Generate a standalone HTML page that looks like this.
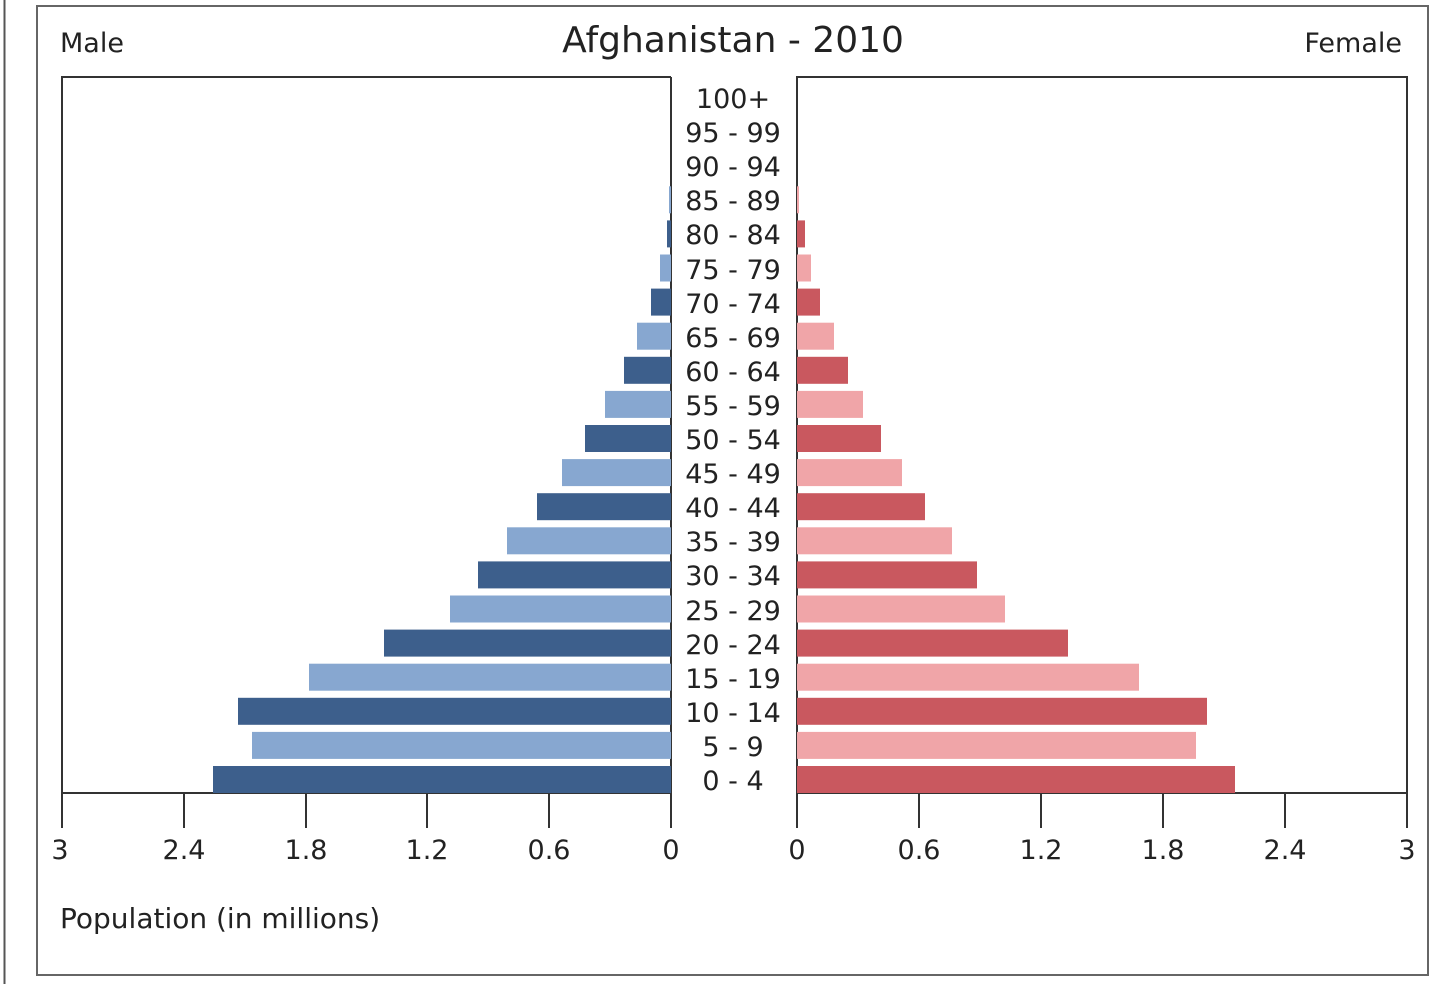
<!DOCTYPE html>
<html><head><meta charset="utf-8"><style>
html,body{margin:0;padding:0;background:#fff;}
svg{display:block;}
text{font-family:"DejaVu Sans","Liberation Sans",sans-serif;fill:#222;}
</style></head><body>
<svg width="1440" height="984" viewBox="0 0 1440 984" xmlns="http://www.w3.org/2000/svg">
<rect x="0" y="0" width="1440" height="984" fill="#fff"/>
<line x1="4.5" y1="0" x2="4.5" y2="984" stroke="#555" stroke-width="2"/>
<rect x="37" y="6" width="1391" height="969" fill="none" stroke="#666" stroke-width="2"/>
<text x="60" y="52" font-size="27">Male</text>
<text x="733" y="52" font-size="36" text-anchor="middle">Afghanistan - 2010</text>
<text x="1402" y="52" font-size="27" text-anchor="end">Female</text>
<g fill="none" stroke="#333" stroke-width="2">
<polyline points="671,77 62,77 62,793 671,793"/>
<line x1="671" y1="77" x2="671" y2="793"/>
<polyline points="797,793 797,77 1407,77 1407,793 797,793"/>
</g>
<g id="bars">
<rect x="213" y="766" width="458" height="27" fill="#3d5f8c"/>
<rect x="252" y="731.9" width="419" height="27" fill="#87a7d0"/>
<rect x="238" y="697.8" width="433" height="27" fill="#3d5f8c"/>
<rect x="309" y="663.7" width="362" height="27" fill="#87a7d0"/>
<rect x="384" y="629.6" width="287" height="27" fill="#3d5f8c"/>
<rect x="450" y="595.5" width="221" height="27" fill="#87a7d0"/>
<rect x="478" y="561.4" width="193" height="27" fill="#3d5f8c"/>
<rect x="507" y="527.3" width="164" height="27" fill="#87a7d0"/>
<rect x="537" y="493.2" width="134" height="27" fill="#3d5f8c"/>
<rect x="562" y="459.1" width="109" height="27" fill="#87a7d0"/>
<rect x="585" y="425" width="86" height="27" fill="#3d5f8c"/>
<rect x="605" y="390.9" width="66" height="27" fill="#87a7d0"/>
<rect x="624" y="356.8" width="47" height="27" fill="#3d5f8c"/>
<rect x="637" y="322.7" width="34" height="27" fill="#87a7d0"/>
<rect x="651" y="288.6" width="20" height="27" fill="#3d5f8c"/>
<rect x="660" y="254.5" width="11" height="27" fill="#87a7d0"/>
<rect x="667" y="220.4" width="4" height="27" fill="#3d5f8c"/>
<rect x="669" y="186.3" width="2" height="27" fill="#87a7d0"/>

<rect x="797" y="766" width="438" height="27" fill="#c9585f"/>
<rect x="797" y="731.9" width="399" height="27" fill="#f0a5a8"/>
<rect x="797" y="697.8" width="410" height="27" fill="#c9585f"/>
<rect x="797" y="663.7" width="342" height="27" fill="#f0a5a8"/>
<rect x="797" y="629.6" width="271" height="27" fill="#c9585f"/>
<rect x="797" y="595.5" width="208" height="27" fill="#f0a5a8"/>
<rect x="797" y="561.4" width="180" height="27" fill="#c9585f"/>
<rect x="797" y="527.3" width="155" height="27" fill="#f0a5a8"/>
<rect x="797" y="493.2" width="128" height="27" fill="#c9585f"/>
<rect x="797" y="459.1" width="105" height="27" fill="#f0a5a8"/>
<rect x="797" y="425" width="84" height="27" fill="#c9585f"/>
<rect x="797" y="390.9" width="66" height="27" fill="#f0a5a8"/>
<rect x="797" y="356.8" width="51" height="27" fill="#c9585f"/>
<rect x="797" y="322.7" width="37" height="27" fill="#f0a5a8"/>
<rect x="797" y="288.6" width="23" height="27" fill="#c9585f"/>
<rect x="797" y="254.5" width="14" height="27" fill="#f0a5a8"/>
<rect x="797" y="220.4" width="8" height="27" fill="#c9585f"/>
<rect x="797" y="186.3" width="2" height="27" fill="#f0a5a8"/>
</g>
<g font-size="27" text-anchor="middle">
<text x="733" y="790">0 - 4</text>
<text x="733" y="756">5 - 9</text>
<text x="733" y="722">10 - 14</text>
<text x="733" y="688">15 - 19</text>
<text x="733" y="654">20 - 24</text>
<text x="733" y="620">25 - 29</text>
<text x="733" y="585">30 - 34</text>
<text x="733" y="551">35 - 39</text>
<text x="733" y="517">40 - 44</text>
<text x="733" y="483">45 - 49</text>
<text x="733" y="449">50 - 54</text>
<text x="733" y="415">55 - 59</text>
<text x="733" y="381">60 - 64</text>
<text x="733" y="347">65 - 69</text>
<text x="733" y="313">70 - 74</text>
<text x="733" y="279">75 - 79</text>
<text x="733" y="244">80 - 84</text>
<text x="733" y="210">85 - 89</text>
<text x="733" y="176">90 - 94</text>
<text x="733" y="142">95 - 99</text>
<text x="733" y="108">100+</text>
</g>
<g stroke="#333" stroke-width="2">
<line x1="62" y1="793" x2="62" y2="828"/>
<line x1="184" y1="793" x2="184" y2="828"/>
<line x1="306" y1="793" x2="306" y2="828"/>
<line x1="427" y1="793" x2="427" y2="828"/>
<line x1="549" y1="793" x2="549" y2="828"/>
<line x1="671" y1="793" x2="671" y2="828"/>
<line x1="797" y1="793" x2="797" y2="828"/>
<line x1="919" y1="793" x2="919" y2="828"/>
<line x1="1041" y1="793" x2="1041" y2="828"/>
<line x1="1163" y1="793" x2="1163" y2="828"/>
<line x1="1285" y1="793" x2="1285" y2="828"/>
<line x1="1407" y1="793" x2="1407" y2="828"/>
</g>
<g font-size="27" text-anchor="middle">
<text x="60" y="859">3</text>
<text x="184" y="859">2.4</text>
<text x="306" y="859">1.8</text>
<text x="427" y="859">1.2</text>
<text x="549" y="859">0.6</text>
<text x="671" y="859">0</text>
<text x="797" y="859">0</text>
<text x="919" y="859">0.6</text>
<text x="1041" y="859">1.2</text>
<text x="1163" y="859">1.8</text>
<text x="1285" y="859">2.4</text>
<text x="1407" y="859">3</text>
</g>
<text x="60" y="928" font-size="28">Population (in millions)</text>
</svg>
</body></html>
